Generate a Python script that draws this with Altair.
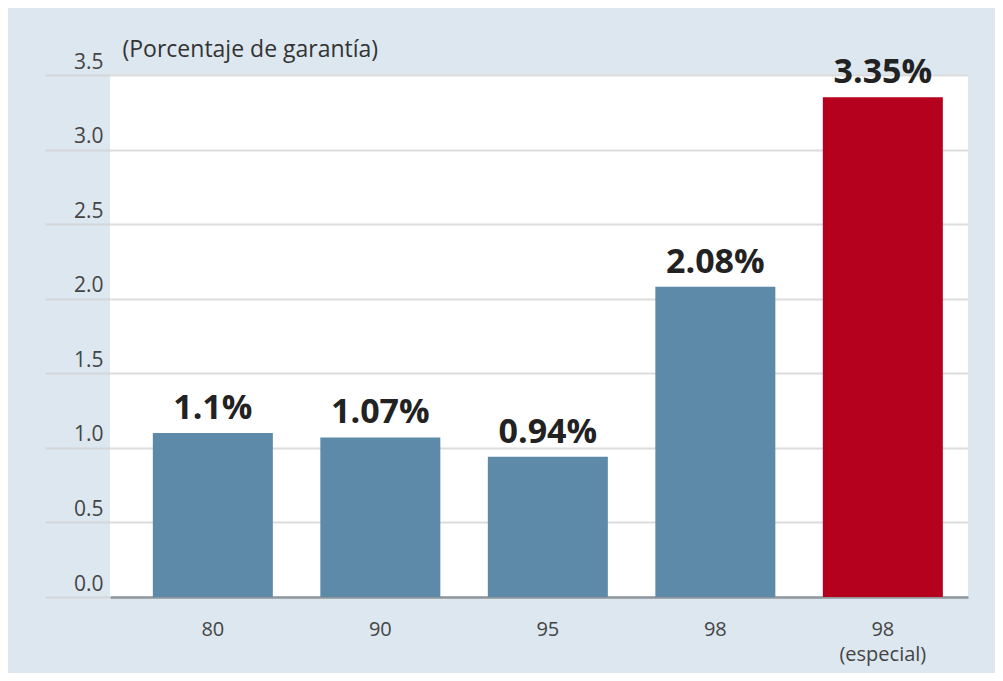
import altair as alt
import pandas as pd

categories = ["80", "90", "95", "98", "98 (especial)"]
values = [1.1, 1.07, 0.94, 2.08, 3.35]
labels = ["1.1%", "1.07%", "0.94%", "2.08%", "3.35%"]
highlight = [False, False, False, False, True]

df = pd.DataFrame({"cat": categories, "val": values, "lab": labels, "hl": highlight})

FONT = "Liberation Sans Narrow, Open Sans, sans-serif"

x = alt.X(
    "cat:N",
    sort=categories,
    scale=alt.Scale(paddingInner=0.2836, paddingOuter=0.203, align=0.63),
    axis=alt.Axis(
        title=None,
        labelAngle=0,
        ticks=False,
        labelPadding=22,
        labelFontSize=20,
        labelFont=FONT,
        labelColor="#444444",
        labelLineHeight=25,
        labelExpr="datum.label == '98 (especial)' ? ['98', '(especial)'] : datum.label",
        domainColor="#8e979e",
        domainWidth=2.5,
        grid=False,
    ),
)

y = alt.Y(
    "val:Q",
    scale=alt.Scale(domain=[0, 3.5], nice=False, zero=True),
    axis=alt.Axis(
        values=[0, 0.5, 1.0, 1.5, 2.0, 2.5, 3.0, 3.5],
        format=".1f",
        title="(Porcentaje de garantía)",
        titleAngle=0,
        titleAlign="left",
        titleBaseline="middle",
        titleX=12,
        titleY=-26,
        titleFont=FONT,
        titleFontSize=23,
        titleFontWeight="normal",
        titleColor="#333333",
        domain=False,
        tickSize=65,
        tickColor="#d4d6d8",
        tickWidth=2,
        labelPadding=-58,
        labelAlign="right",
        labelBaseline="bottom",
        labelOffset=-3,
        labelFontSize=21,
        labelFont=FONT,
        labelColor="#444444",
        grid=True,
        gridColor="#dcdcdc",
        gridWidth=2,
    ),
)

bars = alt.Chart(df).mark_bar().encode(
    x=x,
    y=y,
    color=alt.Color(
        "hl:N",
        scale=alt.Scale(domain=[False, True], range=["#5d8aa8", "#b5001e"]),
        legend=None,
    ),
)

text = alt.Chart(df).mark_text(
    baseline="bottom", dy=-7, fontSize=34, fontWeight="bold", font=FONT, color="#222222"
).encode(x=alt.X("cat:N", sort=categories), y=alt.Y("val:Q"), text="lab:N")

chart = (
    alt.layer(bars, text)
    .properties(
        width=858,
        height=522,
        background="#dde7ef",
        padding={"left": 102, "top": 67, "right": 27, "bottom": 76},
        autosize=alt.AutoSizeParams(type="none"),
    )
    .configure_view(fill="white", stroke=None)
)

chart.save("out.html", embed_options={"renderer": "svg", "actions": False})
